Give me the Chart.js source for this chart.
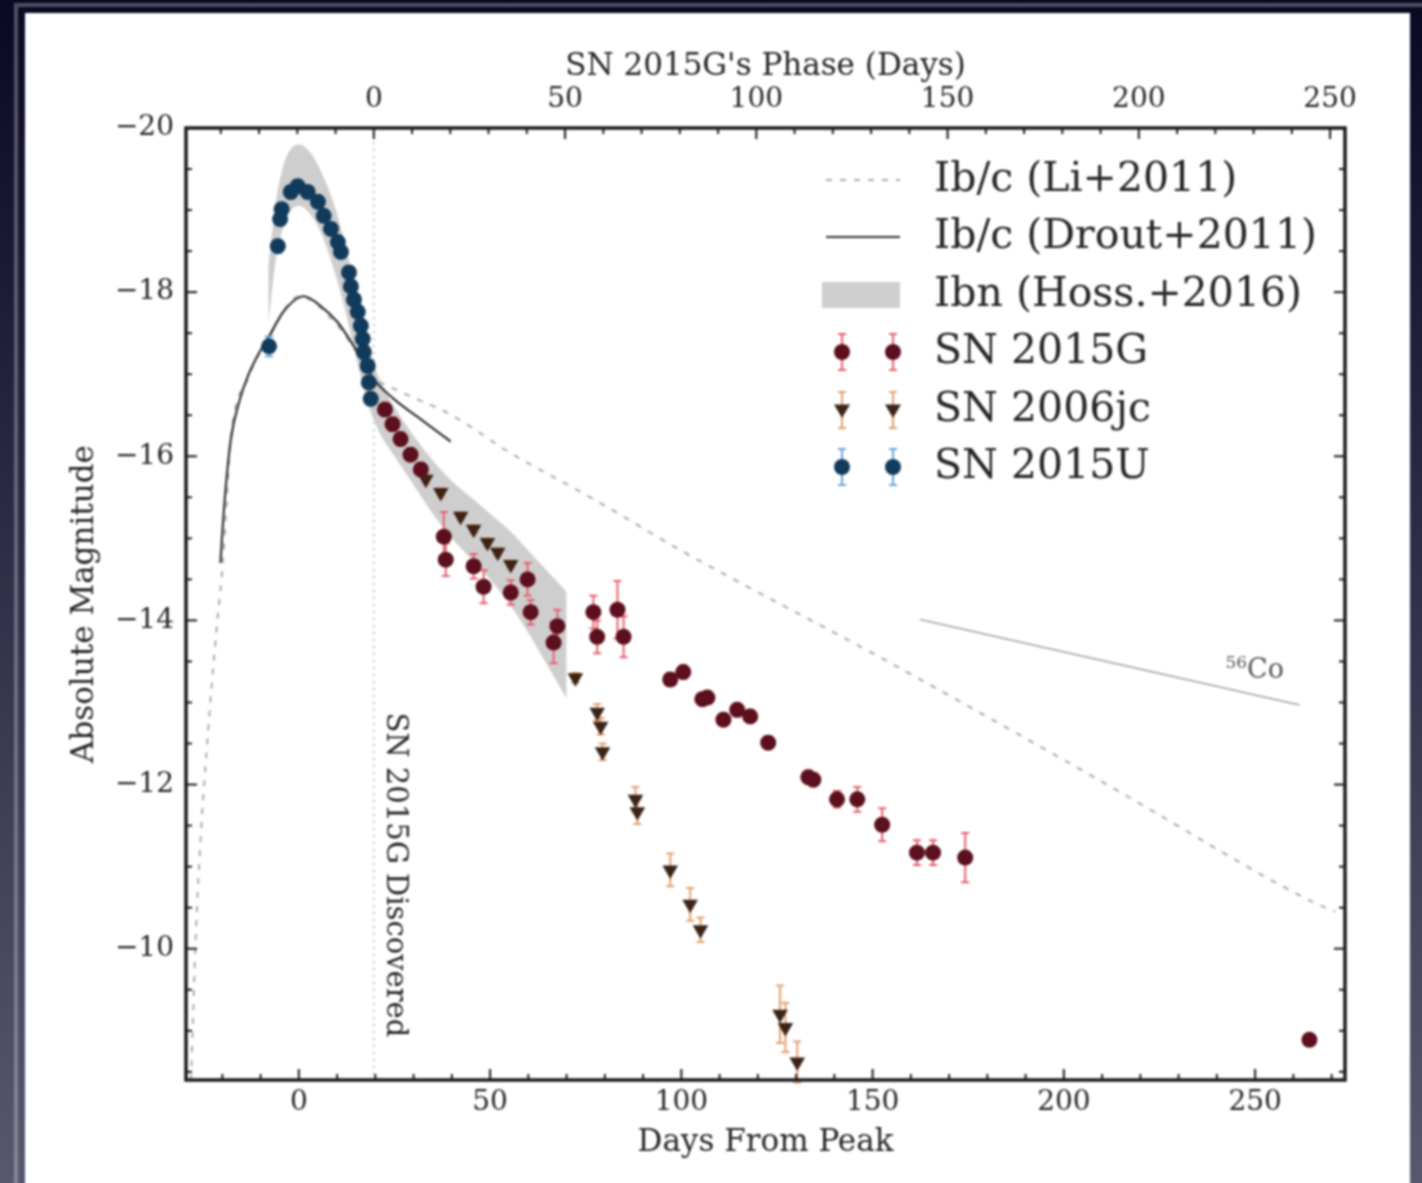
<!DOCTYPE html>
<html>
<head>
<meta charset="utf-8">
<script src="https://cdn.jsdelivr.net/npm/chart.js@4.4.1/dist/chart.umd.min.js"></script>
<style>
html, body { margin: 0; padding: 0; width: 1422px; height: 1183px; overflow: hidden;
  background: linear-gradient(to bottom, #0a0924, #57576f); }
.wrap { position: absolute; left: 0; top: 0; width: 1422px; height: 1183px; filter: blur(1.2px); }
.frame { position: absolute; left: 14px; top: 3px; width: 1420px; height: 1200px;
  border: 4px solid rgba(255,255,255,0.28); }
.panel { position: absolute; left: 25px; top: 13px; width: 1385px; height: 1200px; background: #fff; }
#lc { position: absolute; left: 0; top: 0; }
</style>
</head>
<body>
<div class="wrap">
<div class="frame"></div>
<div class="panel"></div>
<canvas id="lc" width="1422" height="1183"></canvas>
</div>
<script>
// SN 2015G phase = days from peak - offset
const PHASE_OFFSET = 19.6;

// Ib/c template (Li+2011)
const liDays = [-28.2, -26.9, -25.6, -23.8, -21.5, -19.8, -17.8, -13.3, -7.8, 0, 10, 20, 25, 40, 55, 77, 100, 150, 200, 215, 265, 271];
const liMag  = [-8.4, -10.2, -11.4, -12.6, -13.9, -14.74, -16.2, -16.95, -17.45, -17.95, -17.6, -16.95, -16.82, -16.5, -16.05, -15.48, -14.85, -13.6, -12.3, -11.9, -10.57, -10.45];

// Ib/c template (Drout+2011)
const droutDays = [-20.5, -19.5, -17.8, -15.5, -13.3, -10.5, -7.8, -3.9, 1.3, 5.7, 10.2, 14.4, 19.6, 24.8, 31.9, 39.7];
const droutMag  = [-14.7, -15.4, -16.2, -16.68, -16.98, -17.25, -17.46, -17.77, -17.95, -17.83, -17.63, -17.34, -16.94, -16.7, -16.45, -16.18];

// Ibn template band (Hosseinzadeh+2016)
const ibnDays = [-8, -6, -4, -2, 0, 3, 6, 9, 12, 15, 18, 21, 25, 30, 35, 40, 45, 50, 55, 60, 65, 70];
const ibnHi   = [-18.3, -19.1, -19.55, -19.75, -19.8, -19.7, -19.45, -19.1, -18.6, -18.0, -17.4, -16.95, -16.6, -16.25, -15.95, -15.7, -15.5, -15.3, -15.1, -14.85, -14.6, -14.35];
const ibnLo   = [-17.6, -18.4, -18.8, -19.0, -19.05, -18.95, -18.7, -18.3, -17.8, -17.2, -16.65, -16.3, -16.0, -15.65, -15.3, -15.0, -14.75, -14.5, -14.2, -13.85, -13.45, -13.05];

// 56Co decay slope
const coDays = [162.4, 261.6];
const coMag  = [-14.01, -12.97];

// SN 2015G
const g15Days = [22.5, 24.5, 26.6, 29.2, 31.9, 37.9, 38.4, 45.7, 48.3, 55.4, 59.8, 60.6, 66.6, 67.6, 77.0, 78.0, 83.3, 84.9, 97.1, 100.5, 105.5, 106.8, 111.0, 114.6, 118.0, 122.7, 133.2, 134.5, 140.7, 146.0, 152.5, 161.6, 165.8, 174.2, 264.2];
const g15Mag  = [-16.57, -16.39, -16.21, -16.02, -15.84, -15.02, -14.74, -14.66, -14.41, -14.34, -14.5, -14.1, -13.73, -13.93, -14.1, -13.8, -14.13, -13.8, -13.28, -13.37, -13.04, -13.06, -12.79, -12.91, -12.83, -12.51, -12.09, -12.06, -11.82, -11.82, -11.51, -11.17, -11.17, -11.11, -8.89];
const g15Err  = [0.08, 0.08, 0.08, 0.08, 0.08, 0.3, 0.2, 0.15, 0.2, 0.15, 0.2, 0.15, 0.25, 0.2, 0.2, 0.2, 0.35, 0.25, 0.08, 0.08, 0.08, 0.08, 0.08, 0.08, 0.08, 0.08, 0.08, 0.08, 0.1, 0.15, 0.2, 0.15, 0.15, 0.3, 0.05];

// SN 2006jc
const jcDays = [33.2, 37.1, 42.3, 45.7, 49.3, 52.0, 55.4, 72.3, 78.0, 78.9, 79.4, 88.0, 88.5, 97.1, 102.3, 105.0, 125.8, 127.2, 130.3];
const jcMag  = [-15.72, -15.56, -15.27, -15.11, -14.95, -14.83, -14.68, -13.3, -12.88, -12.71, -12.4, -11.82, -11.67, -10.96, -10.54, -10.23, -9.2, -9.04, -8.62];
const jcErr  = [0.05, 0.05, 0.05, 0.05, 0.05, 0.05, 0.05, 0.06, 0.1, 0.1, 0.1, 0.15, 0.15, 0.2, 0.2, 0.15, 0.35, 0.3, 0.25];

// SN 2015U
const uDays = [-7.8, -5.5, -4.9, -4.5, -2.1, -0.3, 2.3, 5.0, 6.5, 8.4, 10.2, 11.0, 13.1, 13.6, 14.4, 15.4, 16.2, 16.7, 17.0, 18.0, 18.3, 18.8];
const uMag  = [-17.34, -18.56, -18.89, -19.01, -19.22, -19.29, -19.22, -19.1, -18.93, -18.77, -18.61, -18.49, -18.24, -18.07, -17.91, -17.76, -17.59, -17.43, -17.27, -17.1, -16.9, -16.7];
const uErr  = [0.12, 0.08, 0.08, 0.08, 0.08, 0.08, 0.08, 0.08, 0.08, 0.08, 0.08, 0.08, 0.08, 0.08, 0.08, 0.08, 0.08, 0.08, 0.08, 0.08, 0.08, 0.08];

const xTicks = [0, 50, 100, 150, 200, 250];

const SERIF = '"DejaVu Serif", serif';
const INK = '#262626';

function pts(xs, ys) {
    return xs.map((x, i) => ({x: x, y: ys[i]}));
}

function minusLabel(v) {
    return v < 0 ? '\u2212' + Math.abs(v) : String(Math.round(v));
}

function errorBar(ctx, x, y1, y2, cap) {
    ctx.beginPath();
    ctx.moveTo(x, y1); ctx.lineTo(x, y2);
    ctx.moveTo(x - cap, y1); ctx.lineTo(x + cap, y1);
    ctx.moveTo(x - cap, y2); ctx.lineTo(x + cap, y2);
    ctx.stroke();
}

function marker(ctx, style, x, y, r, color) {
    ctx.fillStyle = color;
    ctx.beginPath();
    if (style === 'tri') {
        ctx.moveTo(x - r, y - r * 0.7);
        ctx.lineTo(x + r, y - r * 0.7);
        ctx.lineTo(x, y + r);
        ctx.closePath();
    } else {
        ctx.arc(x, y, r, 0, Math.PI * 2);
    }
    ctx.fill();
}

const extras = {
    id: 'extras',
    beforeDatasetsDraw(chart) {
        // discovery line
        const {ctx, chartArea: a, scales: {x}} = chart;
        const px = x.getPixelForValue(PHASE_OFFSET);
        ctx.save();
        ctx.strokeStyle = '#b5b5b5';
        ctx.lineWidth = 1.5;
        ctx.setLineDash([2, 5]);
        ctx.beginPath();
        ctx.moveTo(px, a.top); ctx.lineTo(px, a.bottom);
        ctx.stroke();
        ctx.restore();
    },
    beforeDatasetDraw(chart, args) {
        const ds = chart.data.datasets[args.index];
        if (!ds.errors) return;
        const {ctx, scales: {x, y}} = chart;
        ctx.save();
        ctx.strokeStyle = ds.errorColor;
        ctx.lineWidth = 2;
        ds.data.forEach((p, i) => {
            const e = ds.errors[i];
            errorBar(ctx, x.getPixelForValue(p.x), y.getPixelForValue(p.y - e), y.getPixelForValue(p.y + e), 4);
        });
        ctx.restore();
    },
    afterDraw(chart) {
        const {ctx, chartArea: a, scales: {x, x2, y}} = chart;
        ctx.save();

        // inward ticks, all four sides
        ctx.strokeStyle = '#1a1a1a';
        ctx.lineWidth = 2;
        for (let v = -20; v <= 270; v += 10) {
            const px = x.getPixelForValue(v);
            if (px < a.left || px > a.right) continue;
            const len = v % 50 === 0 ? 11 : 6;
            ctx.beginPath(); ctx.moveTo(px, a.bottom); ctx.lineTo(px, a.bottom - len); ctx.stroke();
        }
        for (let v = -40; v <= 260; v += 10) {
            const px = x2.getPixelForValue(v);
            if (px < a.left || px > a.right) continue;
            const len = v % 50 === 0 ? 11 : 6;
            ctx.beginPath(); ctx.moveTo(px, a.top); ctx.lineTo(px, a.top + len); ctx.stroke();
        }
        for (let v = -20; v <= -8.5; v += 0.5) {
            const py = y.getPixelForValue(v);
            const len = (Math.abs(v) % 2 === 0) ? 11 : 6;
            ctx.beginPath(); ctx.moveTo(a.left, py); ctx.lineTo(a.left + len, py); ctx.stroke();
            ctx.beginPath(); ctx.moveTo(a.right, py); ctx.lineTo(a.right - len, py); ctx.stroke();
        }
        // frame
        ctx.lineWidth = 3.5;
        ctx.strokeRect(a.left, a.top, a.right - a.left, a.bottom - a.top);

        // annotations
        ctx.fillStyle = INK;
        ctx.font = '29px ' + SERIF;
        ctx.textAlign = 'center';
        ctx.textBaseline = 'middle';
        ctx.save();
        ctx.translate(x.getPixelForValue(PHASE_OFFSET) + 21, y.getPixelForValue(-10.9));
        ctx.rotate(Math.PI / 2);
        ctx.fillText('SN 2015G Discovered', 0, 0);
        ctx.restore();

        ctx.fillStyle = '#555';
        const cx = x.getPixelForValue(250.5), cy = y.getPixelForValue(-13.38);
        ctx.font = '17px ' + SERIF;
        ctx.textAlign = 'right';
        ctx.fillText('56', cx - 10, cy - 8);
        ctx.font = '27px ' + SERIF;
        ctx.textAlign = 'left';
        ctx.fillText('Co', cx - 10, cy);

        // legend
        const rows = [180, 237, 295, 352, 410, 467];
        const hx0 = 826, hx1 = 900, tx = 934;
        ctx.lineWidth = 2;
        ctx.strokeStyle = '#aaaaaa';
        ctx.setLineDash([6, 8]);
        ctx.beginPath(); ctx.moveTo(hx0, rows[0]); ctx.lineTo(hx1, rows[0]); ctx.stroke();
        ctx.setLineDash([]);
        ctx.strokeStyle = '#333';
        ctx.beginPath(); ctx.moveTo(hx0, rows[1]); ctx.lineTo(hx1, rows[1]); ctx.stroke();
        ctx.fillStyle = 'rgba(190,190,190,0.75)';
        ctx.fillRect(hx0 - 4, rows[2] - 13, hx1 - hx0 + 4, 26);

        const pts3 = [
            {row: rows[3], style: 'dot', fill: '#5c0f1c', err: '#e8606e'},
            {row: rows[4], style: 'tri', fill: '#3b2316', err: '#e3a070'},
            {row: rows[5], style: 'dot', fill: '#123a5a', err: '#6aa6d8'}
        ];
        pts3.forEach(p => {
            [842, 893].forEach(mx => {
                ctx.strokeStyle = p.err;
                errorBar(ctx, mx, p.row - 18, p.row + 18, 4);
                marker(ctx, p.style, mx, p.row, 8, p.fill);
            });
        });

        const labels = ['Ib/c (Li+2011)', 'Ib/c (Drout+2011)', 'Ibn (Hoss.+2016)', 'SN 2015G', 'SN 2006jc', 'SN 2015U'];
        ctx.fillStyle = INK;
        ctx.font = '41px ' + SERIF;
        ctx.textAlign = 'left';
        ctx.textBaseline = 'middle';
        labels.forEach((t, i) => ctx.fillText(t, tx, rows[i]));

        ctx.restore();
    }
};

const tickFont = {family: SERIF, size: 28};
const titleFont = {family: SERIF, size: 31};

new Chart(document.getElementById('lc'), {
    type: 'line',
    data: {
        datasets: [
            {label: 'SN 2015U', data: pts(uDays, uMag), errors: uErr, errorColor: '#6aa6d8',
             showLine: false, pointStyle: 'circle', pointRadius: 8, pointBackgroundColor: '#123a5a',
             pointBorderWidth: 0, order: 1},
            {label: 'SN 2015G', data: pts(g15Days, g15Mag), errors: g15Err, errorColor: '#e8606e',
             showLine: false, pointStyle: 'circle', pointRadius: 8, pointBackgroundColor: '#5c0f1c',
             pointBorderWidth: 0, order: 2},
            {label: 'SN 2006jc', data: pts(jcDays, jcMag), errors: jcErr, errorColor: '#e3a070',
             showLine: false, pointStyle: 'triangle', rotation: 180, pointRadius: 9, pointBackgroundColor: '#3b2316',
             pointBorderWidth: 0, order: 3},
            {label: 'Ib/c (Drout+2011)', data: pts(droutDays, droutMag), borderColor: '#333',
             borderWidth: 2.2, pointRadius: 0, cubicInterpolationMode: 'monotone', fill: false, order: 13},
            {label: '56Co', data: pts(coDays, coMag), borderColor: '#a0a0a0',
             borderWidth: 1.5, pointRadius: 0, fill: false, order: 14},
            {label: 'Ib/c (Li+2011)', data: pts(liDays, liMag), borderColor: '#aaaaaa', borderDash: [6, 8],
             borderWidth: 2, pointRadius: 0, cubicInterpolationMode: 'monotone', fill: false, order: 15},
            {label: 'Ibn (Hoss.+2016)', data: pts(ibnDays, ibnHi), borderWidth: 0, pointRadius: 0,
             backgroundColor: 'rgba(190,190,190,0.75)', cubicInterpolationMode: 'monotone', fill: '+1', order: 20},
            {label: 'Ibn lower', data: pts(ibnDays, ibnLo), borderWidth: 0, pointRadius: 0,
             cubicInterpolationMode: 'monotone', fill: false, order: 21}
        ]
    },
    options: {
        responsive: false,
        animation: false,
        events: [],
        layout: {padding: {left: 0, right: 77, top: 0, bottom: 0}},
        plugins: {legend: {display: false}, tooltip: {enabled: false}},
        scales: {
            x: {
                type: 'linear', position: 'bottom', min: -29.5, max: 273.5,
                afterFit(s) { s.height = 103; },
                afterBuildTicks(s) { s.ticks = xTicks.map(v => ({value: v})); },
                grid: {display: false, drawTicks: false}, border: {display: false},
                ticks: {padding: 6, maxRotation: 0, font: tickFont, color: INK, callback: minusLabel},
                title: {display: true, text: 'Days From Peak', font: titleFont, color: INK, padding: {top: 0, bottom: 21}}
            },
            x2: {
                type: 'linear', position: 'top', min: -29.5 - PHASE_OFFSET, max: 273.5 - PHASE_OFFSET,
                afterFit(s) { s.height = 128; },
                afterBuildTicks(s) { s.ticks = xTicks.map(v => ({value: v})); },
                grid: {display: false, drawTicks: false}, border: {display: false},
                ticks: {padding: 11, maxRotation: 0, font: tickFont, color: INK, callback: minusLabel},
                title: {display: true, text: "SN 2015G's Phase (Days)", font: titleFont, color: INK, padding: {top: 48, bottom: 0}}
            },
            y: {
                type: 'linear', position: 'left', reverse: true, min: -20, max: -8.4,
                afterFit(s) { s.width = 186; },
                grid: {display: false, drawTicks: false}, border: {display: false},
                ticks: {stepSize: 2, includeBounds: false, padding: 12, font: tickFont, color: INK, callback: minusLabel},
                title: {display: true, text: 'Absolute Magnitude', font: titleFont, color: INK, padding: {top: 66, bottom: 0}}
            }
        }
    },
    plugins: [extras]
});
</script>
</body>
</html>
